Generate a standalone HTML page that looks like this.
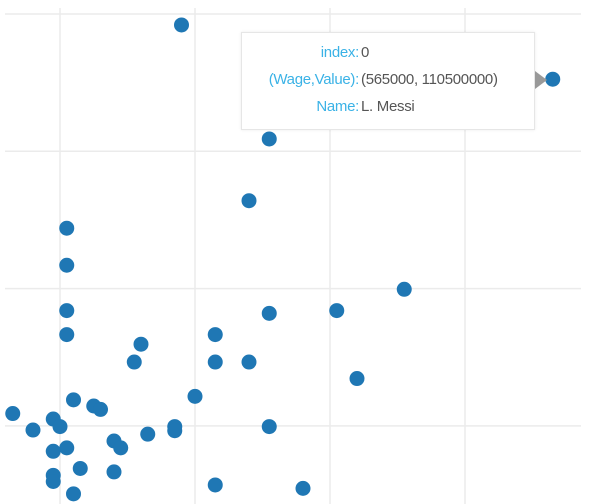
<!DOCTYPE html>
<html><head><meta charset="utf-8"><style>
body{margin:0;width:600px;height:504px;overflow:hidden;background:#fff;font-family:"Liberation Sans",sans-serif}
#tip{position:absolute;left:241px;top:32px;width:292px;height:96px;background:#fff;border:1px solid #e6e6e6;box-shadow:0 0 3px rgba(0,0,0,0.08);font-size:15px;color:#555}
.row{position:absolute;left:0;width:117px;text-align:right;white-space:nowrap;letter-spacing:-0.3px}
.lab{color:#3ab2e6}
.val{position:absolute;left:119px;white-space:nowrap;letter-spacing:-0.3px}
</style></head><body>
<svg id="chart" width="600" height="504" style="position:absolute;left:0;top:0"></svg>
<div id="tip">
 <div class="row lab" style="top:11px">index:</div><div class="val" style="top:11px">0</div>
 <div class="row lab" style="top:38px">(Wage,Value):</div><div class="val" style="top:38px">(565000, 110500000)</div>
 <div class="row lab" style="top:65px">Name:</div><div class="val" style="top:65px">L. Messi</div>
</div>
<svg width="600" height="504" style="position:absolute;left:0;top:0;pointer-events:none">
<polygon points="535,71 547,80 535,89" fill="#999"/>
</svg>
<script>
const xTicks=[200000,300000,400000,500000];
const yTicks=[60,80,100,120];
const wages=[290000,565000,355000,340000,205000,205000,455000,205000,355000,405000,205000,315000,260000,255000,315000,340000,420000,300000,210000,225000,230000,165000,195000,200000,180000,285000,285000,355000,265000,240000,245000,205000,195000,215000,240000,195000,195000,315000,380000,210000];
const values=[118.4,110.5,101.8,92.8,88.8,83.4,79.9,76.8,76.4,76.8,73.3,73.3,71.9,69.3,69.3,69.3,66.9,64.3,63.8,62.9,62.4,61.8,61.0,59.9,59.4,59.9,59.3,59.9,58.8,57.8,56.8,56.8,56.3,53.8,53.3,52.8,51.9,51.4,50.9,50.1];
const X=v=>60+(v-200000)*135/100000;
const Y=v=>14+(120-v)*137.3/20;
const svg=document.getElementById('chart');
const NS='http://www.w3.org/2000/svg';
function mk(t,a){const e=document.createElementNS(NS,t);for(const k in a)e.setAttribute(k,a[k]);svg.appendChild(e);return e;}
xTicks.forEach(t=>{const l=mk('line',{x1:X(t),x2:X(t),y1:8,y2:504,stroke:'#ebebeb','stroke-width':1.5});

});
yTicks.forEach(t=>{const l=mk('line',{x1:5,x2:581,y1:Y(t),y2:Y(t),stroke:'#ebebeb','stroke-width':1.5});

});
wages.forEach((w,i)=>{const c=mk('circle',{cx:X(w),cy:Y(values[i]),r:7.5,fill:'#1f77b4'});

});
</script>
</body></html>
